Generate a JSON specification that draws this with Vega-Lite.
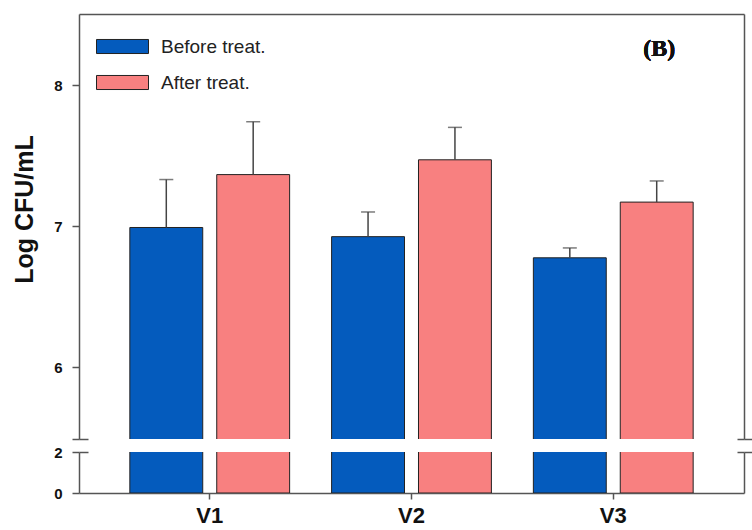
{
  "$schema": "https://vega.github.io/schema/vega-lite/v6.json",
  "padding": {"left": 12, "top": 14, "right": 0, "bottom": 0},
  "data": {"values": [
    {"cat": "V1", "grp": "Before treat.", "value": 6.99, "upper": 7.33},
    {"cat": "V1", "grp": "After treat.", "value": 7.365, "upper": 7.74},
    {"cat": "V2", "grp": "Before treat.", "value": 6.925, "upper": 7.10},
    {"cat": "V2", "grp": "After treat.", "value": 7.47, "upper": 7.70},
    {"cat": "V3", "grp": "Before treat.", "value": 6.775, "upper": 6.845},
    {"cat": "V3", "grp": "After treat.", "value": 7.17, "upper": 7.32}
  ]},
  "config": {
    "view": {"stroke": null},
    "font": "Liberation Sans",
    "axis": {"domainColor": "#555", "domainWidth": 1.5, "tickColor": "#555", "tickWidth": 1.5, "grid": false, "labelFont": "Liberation Sans", "labelFontWeight": "bold", "labelColor": "#111"}
  },
  "spacing": 13,
  "bounds": "flush",
  "resolve": {"legend": {"color": "independent"}},
  "vconcat": [
    {
      "width": 665,
      "height": 425,
      "layer": [
        {
          "mark": {"type": "bar", "clip": true, "stroke": "#222", "strokeWidth": 1},
          "encoding": {
            "x": {"field": "cat", "type": "nominal", "scale": {"paddingInner": 0.208, "paddingOuter": 0.252}, "axis": {"orient": "top", "labels": false, "ticks": false, "title": null}},
            "xOffset": {"field": "grp", "type": "nominal", "sort": ["Before treat.", "After treat."], "scale": {"paddingInner": 0.161, "paddingOuter": 0}},
            "y": {"field": "value", "type": "quantitative", "scale": {"domain": [5.49, 8.504], "zero": false, "nice": false},
              "axis": {"orient": "left", "values": [5.49, 6, 7, 8], "labelExpr": "datum.value < 5.9 ? '' : datum.label", "tickSize": 7, "labelPadding": 10, "labelFontSize": 15,
                "title": "Log CFU/mL", "titleFont": "Liberation Sans", "titleFontSize": 25, "titleFontWeight": "bold", "titleColor": "#111", "titleX": -55, "titleY": 195, "titleBaseline": "middle", "titleAngle": -90}},
            "color": {"field": "grp", "type": "nominal", "sort": ["Before treat.", "After treat."],
              "scale": {"domain": ["Before treat.", "After treat."], "range": ["#045BBD", "#F88080"]},
              "legend": {"title": null, "orient": "none", "legendX": 30, "legendY": 19, "padding": 0, "symbolType": "M-2,-0.54L2,-0.54L2,0.54L-2,0.54Z", "symbolSize": 676, "symbolStrokeColor": "#222", "symbolStrokeWidth": 1, "symbolOpacity": 1, "labelOffset": 25, "rowPadding": 12, "labelFont": "Liberation Sans", "labelFontSize": 19, "labelColor": "#222"}}
          }
        },
        {
          "mark": {"type": "rule", "color": "#444", "strokeWidth": 1.5},
          "encoding": {
            "x": {"field": "cat", "type": "nominal", "axis": {"orient": "top", "labels": false, "ticks": false, "title": null}},
            "xOffset": {"field": "grp", "type": "nominal", "sort": ["Before treat.", "After treat."]},
            "y": {"field": "value", "type": "quantitative", "axis": {"orient": "right", "values": [5.49], "labels": false, "tickSize": 8, "title": null}},
            "y2": {"field": "upper"}
          }
        },
        {
          "mark": {"type": "tick", "color": "#444", "thickness": 1.5, "size": 14, "orient": "horizontal"},
          "encoding": {
            "x": {"field": "cat", "type": "nominal", "axis": {"orient": "top", "labels": false, "ticks": false, "title": null}},
            "xOffset": {"field": "grp", "type": "nominal", "sort": ["Before treat.", "After treat."]},
            "y": {"field": "upper", "type": "quantitative", "axis": {"orient": "right", "values": [5.49], "labels": false, "domain": false, "tickSize": -7, "title": null}}
          }
        },
        {
          "mark": {"type": "text", "text": "(B)", "font": "Liberation Serif", "fontWeight": "bold", "fontSize": 24, "color": "#111", "dx": 46, "baseline": "middle"},
          "encoding": {
            "x": {"datum": "V3", "type": "nominal", "axis": {"orient": "top", "labels": false, "ticks": false, "title": null}},
            "y": {"datum": 8.255, "type": "quantitative", "axis": {"orient": "left", "values": [5.49], "labels": false, "domain": false, "tickSize": -9, "title": null}}
          }
        }
      ],
      "resolve": {"axis": {"y": "independent"}}
    },
    {
      "width": 665,
      "height": 41,
      "layer": [
        {
          "mark": {"type": "bar", "clip": true, "stroke": "#222", "strokeWidth": 1},
          "encoding": {
            "x": {"field": "cat", "type": "nominal", "scale": {"paddingInner": 0.208, "paddingOuter": 0.252}, "axis": {"orient": "bottom", "title": null, "labelAngle": 0, "labelFontSize": 22, "labelPadding": 6, "tickSize": 6}},
            "xOffset": {"field": "grp", "type": "nominal", "sort": ["Before treat.", "After treat."], "scale": {"paddingInner": 0.161, "paddingOuter": 0}},
            "y": {"field": "value", "type": "quantitative", "scale": {"domain": [0, 2], "nice": false},
              "axis": {"orient": "left", "values": [0, 2], "tickSize": 7, "labelPadding": 10, "labelFontSize": 15, "title": null}},
            "color": {"field": "grp", "type": "nominal", "sort": ["Before treat.", "After treat."],
              "scale": {"domain": ["Before treat.", "After treat."], "range": ["#045BBD", "#F88080"]}, "legend": null}
          }
        },
        {
          "mark": {"type": "rule", "clip": true, "color": "#444", "strokeWidth": 1.5},
          "encoding": {
            "x": {"field": "cat", "type": "nominal", "axis": {"orient": "bottom", "title": null, "labelAngle": 0, "labelFontSize": 22, "labelPadding": 6, "tickSize": 6}},
            "xOffset": {"field": "grp", "type": "nominal", "sort": ["Before treat.", "After treat."]},
            "y": {"field": "value", "type": "quantitative", "axis": {"orient": "right", "values": [2], "labels": false, "tickSize": 8, "title": null}},
            "y2": {"field": "upper"}
          }
        },
        {
          "mark": {"type": "rule", "clip": true, "color": "#444", "strokeWidth": 1.5},
          "encoding": {
            "x": {"field": "cat", "type": "nominal", "axis": {"orient": "bottom", "title": null, "labelAngle": 0, "labelFontSize": 22, "labelPadding": 6, "tickSize": 6}},
            "xOffset": {"field": "grp", "type": "nominal", "sort": ["Before treat.", "After treat."]},
            "y": {"field": "value", "type": "quantitative", "axis": {"orient": "right", "values": [2], "labels": false, "domain": false, "tickSize": -7, "title": null}},
            "y2": {"field": "upper"}
          }
        },
        {
          "mark": {"type": "rule", "clip": true, "color": "#444", "strokeWidth": 1.5},
          "encoding": {
            "x": {"field": "cat", "type": "nominal", "axis": {"orient": "bottom", "title": null, "labelAngle": 0, "labelFontSize": 22, "labelPadding": 6, "tickSize": 6}},
            "xOffset": {"field": "grp", "type": "nominal", "sort": ["Before treat.", "After treat."]},
            "y": {"field": "value", "type": "quantitative", "axis": {"orient": "left", "values": [2], "labels": false, "domain": false, "tickSize": -9, "title": null}},
            "y2": {"field": "upper"}
          }
        }
      ],
      "resolve": {"axis": {"y": "independent"}}
    }
  ]
}
